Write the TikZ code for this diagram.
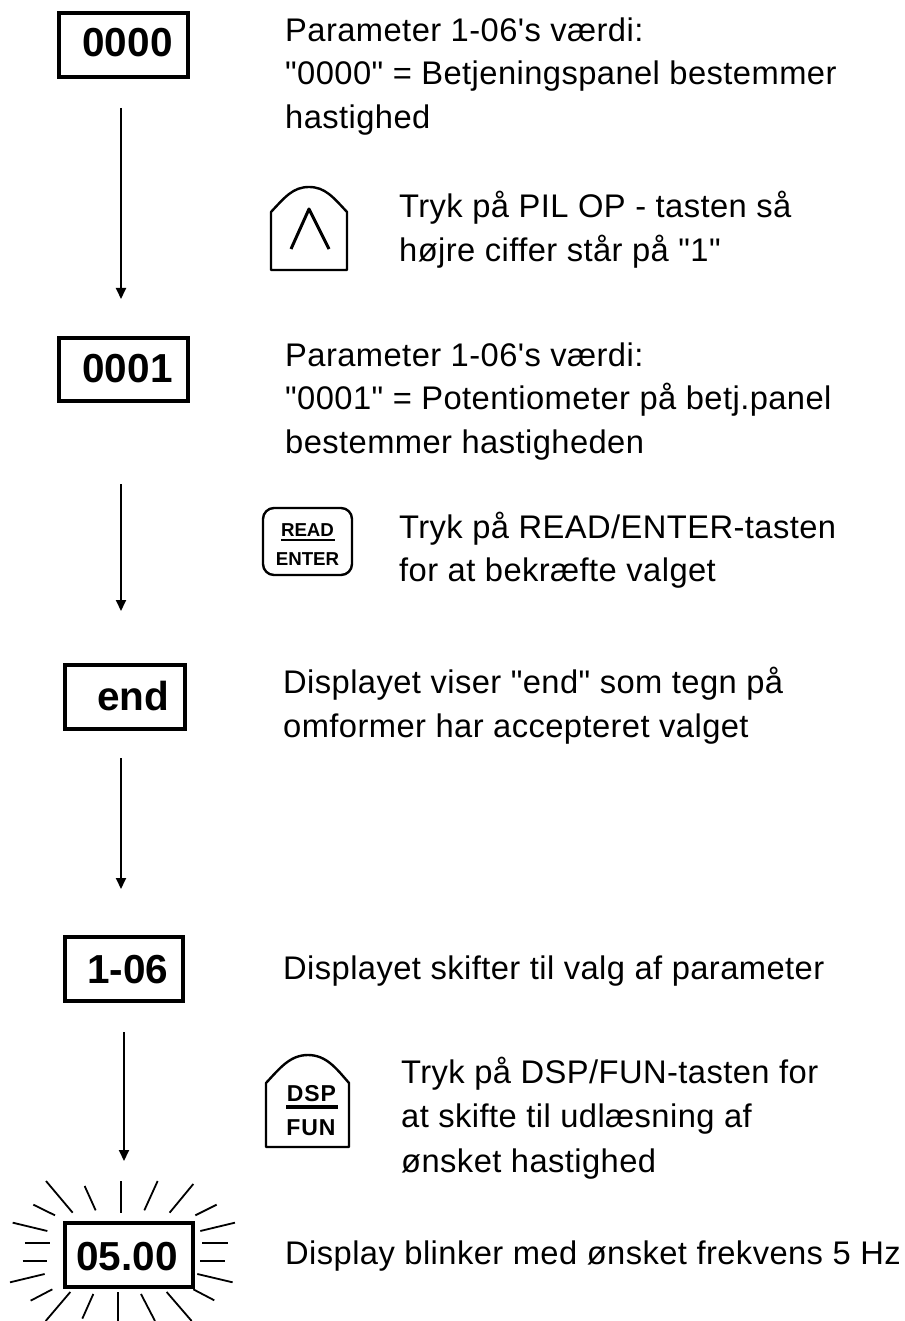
\documentclass[tikz,border=0pt]{standalone}
\usepackage{fontspec}
\newfontfamily\arial{Liberation Sans}
\usetikzlibrary{arrows.meta}
\tikzset{
  txt/.style={anchor=base west,inner sep=0pt,font=\arial\fontsize{32.7}{36}\selectfont\addfontfeature{LetterSpace=1.3}},
  disp/.style={draw,line width=4pt,minimum height=0pt,inner sep=0pt},
  disptxt/.style={anchor=base,inner sep=0pt,font=\arial\fontsize{40.5}{44}\selectfont\bfseries},
  keyline/.style={line width=2.4pt,line join=round},
  keytxt/.style={anchor=base,inner sep=0pt,font=\arial\fontsize{18.7}{20}\selectfont\bfseries},
  keytxtb/.style={anchor=base,inner sep=0pt,font=\arial\fontsize{23}{24}\selectfont\bfseries\addfontfeature{LetterSpace=4}},
  flow/.style={line width=1.8pt,-{Stealth[length=11pt,width=10pt,inset=0pt]}},
  ray/.style={line width=1.8pt}
}
\begin{document}
\begin{tikzpicture}[x=1pt,y=-1pt]
\useasboundingbox (0,0) rectangle (904,1321);
% display boxes
\draw[disp] (59,13) rectangle (188,77);
\node[disptxt] (d1) at (127.5,57) {0000};
\draw[disp] (59,338) rectangle (188,401);
\node[disptxt] (d2) at (127.5,382) {0001};
\draw[disp] (65,665) rectangle (185,729);
\node[disptxt] (d3) at (133,710) {end};
\draw[disp] (65,937) rectangle (183,1001);
\node[disptxt] (d4) at (128,983) {1-06};
\draw[disp] (65,1223) rectangle (193,1287);
\node[disptxt] (d5) at (127,1270) {05.00};
% arrows
\coordinate (a1s) at (121,108); \coordinate (a1e) at (121,299);
\coordinate (a2s) at (121,484); \coordinate (a2e) at (121,611);
\coordinate (a3s) at (121,758); \coordinate (a3e) at (121,889);
\coordinate (a4s) at (124,1032); \coordinate (a4e) at (124,1161);
\draw[flow] (a1s) -- (a1e);
\draw[flow] (a2s) -- (a2e);
\draw[flow] (a3s) -- (a3e);
\draw[flow] (a4s) -- (a4e);
% texts
\node[txt] (t1) at (285,42) {Parameter 1-06's værdi:};
\node[txt] (t2) at (285,85) {"0000" = Betjeningspanel bestemmer};
\node[txt] (t3) at (285,129) {hastighed};
\node[txt] (t4) at (399,218) {Tryk på PIL OP - tasten så};
\node[txt] (t5) at (399,262) {højre ciffer står på "1"};
\node[txt] (t6) at (285,366) {Parameter 1-06's værdi:};
\node[txt] (t7) at (285,409) {"0001" = Potentiometer på betj.panel};
\node[txt] (t8) at (285,453) {bestemmer hastigheden};
\node[txt] (t9) at (399,538) {Tryk på READ/ENTER-tasten};
\node[txt] (t10) at (399,581) {for at bekræfte valget};
\node[txt] (t11) at (283,693) {Displayet viser "end" som tegn på};
\node[txt] (t12) at (283,737) {omformer har accepteret valget};
\node[txt] (t13) at (283,979) {Displayet skifter til valg af parameter};
\node[txt] (t14) at (401,1083) {Tryk på DSP/FUN-tasten for};
\node[txt] (t15) at (401,1127) {at skifte til udlæsning af};
\node[txt] (t16) at (401,1172) {ønsket hastighed};
\node[txt] (t17) at (285,1264) {Display blinker med ønsket frekvens 5 Hz};
% keys
\draw[keyline] (271,270) -- (271,212) .. controls (285,197) and (293,187) .. (309,187) .. controls (325,187) and (333,197) .. (347,212) -- (347,270) -- cycle;
\draw[line width=3pt,line join=round] (291,249) -- (309,209) -- (329,249);
\draw[keyline,rounded corners=11pt] (263,508) rectangle (352,575);
\node[keytxt] (k1) at (307.5,536) {READ};
\draw[line width=2pt] (281,540) -- (335,540);
\node[keytxt] (k2) at (307.5,565) {ENTER};
\draw[keyline] (266,1147) -- (266,1083) .. controls (280,1068) and (290,1055) .. (308,1055) .. controls (326,1055) and (336,1068) .. (349,1083) -- (349,1147) -- cycle;
\node[keytxtb] (k3) at (311.5,1101) {DSP};
\draw[line width=4pt] (286,1107) -- (338,1107);
\node[keytxtb] (k4) at (311,1135) {FUN};
% rays
\begin{scope}[shift={(0,1130)},x=0.3333pt,y=-0.3333pt]
\foreach \a/\b/\c/\d in {138/153/218/248,254/168/287/241,363/153/363/248,473/153/433/241,580/162/509/248,650/224/586/256,705/278/601/303,683/340/607/340,675/394/601/394,698/457/592/432,643/511/580/478,575/573/500/486,465/573/423/492,355/573/355/486,247/566/280/492,137/573/211/486,92/512/157/478,30/457/134/432,68/394/142/394,75/340/150/340,38/278/142/303,100/224/165/256}
  \draw[ray] (\a,\b) -- (\c,\d);
\end{scope}
\end{tikzpicture}
\end{document}
